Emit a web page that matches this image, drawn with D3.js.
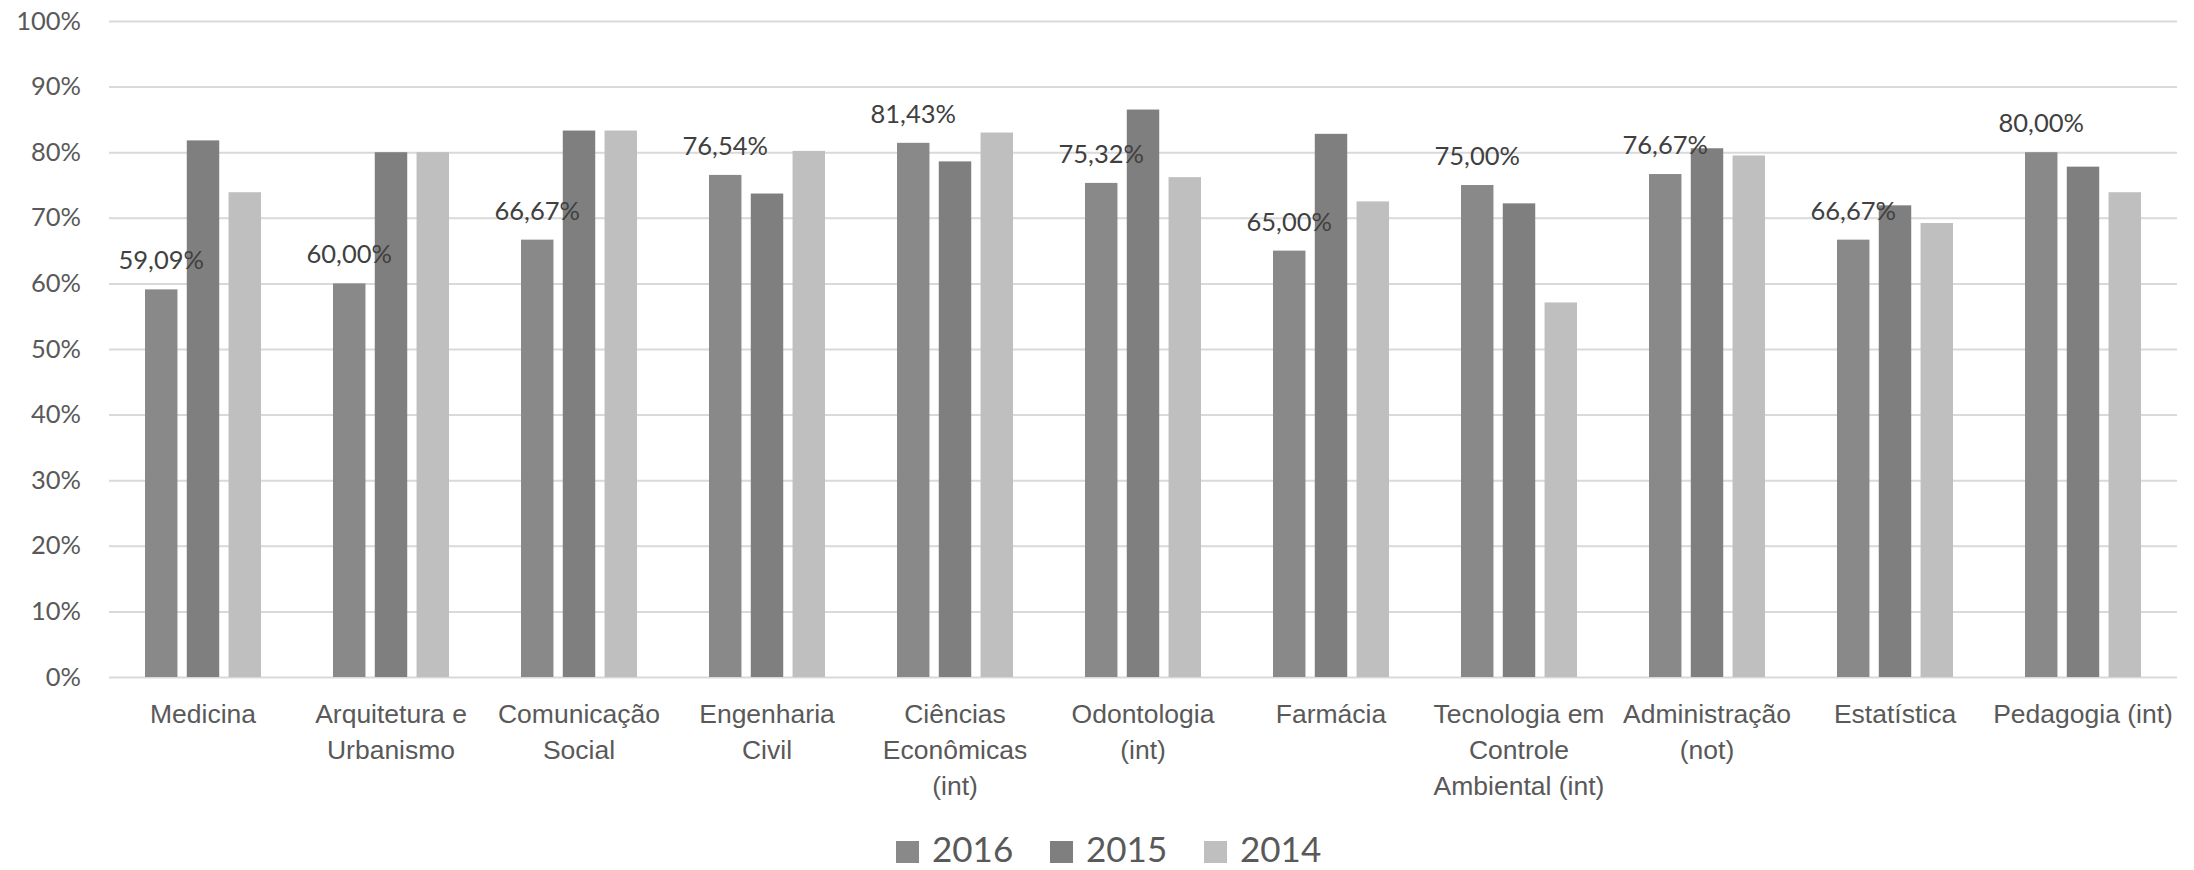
<!DOCTYPE html>
<html>
<head>
<meta charset="utf-8">
<script src="https://cdn.jsdelivr.net/npm/d3@7"></script>
<style>
  html, body { margin: 0; padding: 0; background: #ffffff; }
  svg { display: block; font-family: Lato, "Open Sans", sans-serif; }
</style>
</head>
<body>
<svg id="chart" width="2194" height="870"></svg>
<script>
// ---- data ----
const categories = [
  "Medicina",
  "Arquitetura e\nUrbanismo",
  "Comunicação\nSocial",
  "Engenharia\nCivil",
  "Ciências\nEconômicas\n(int)",
  "Odontologia\n(int)",
  "Farmácia",
  "Tecnologia em\nControle\nAmbiental (int)",
  "Administração\n(not)",
  "Estatística",
  "Pedagogia (int)"
];
const seriesNames = ["2016", "2015", "2014"];
const values2016 = [59.09, 60.00, 66.67, 76.54, 81.43, 75.32, 65.00, 75.00, 76.67, 66.67, 80.00];
const values2015 = [81.8, 80.0, 83.3, 73.7, 78.6, 86.5, 82.8, 72.2, 80.6, 71.9, 77.8];
const values2014 = [73.9, 80.0, 83.3, 80.2, 83.0, 76.2, 72.5, 57.1, 79.5, 69.2, 73.9];
const labels2016 = ["59,09%", "60,00%", "66,67%", "76,54%", "81,43%", "75,32%", "65,00%", "75,00%", "76,67%", "66,67%", "80,00%"];
const yTicks = [0, 10, 20, 30, 40, 50, 60, 70, 80, 90, 100];
const seriesColors = ["#898989", "#7f7f7f", "#bfbfbf"];

const seriesValues = [values2016, values2015, values2014];

// ---- layout ----
const svg = d3.select("#chart");
const plot = { left: 109, right: 2177, top: 21, bottom: 677 };

const x = d3.scaleBand()
  .domain(categories)
  .range([plot.left, plot.right])
  .paddingInner(0.383)
  .paddingOuter(0.383 / 2);

const xs = d3.scaleBand()
  .domain(seriesNames)
  .range([0, x.bandwidth()])
  .paddingInner(0.223)
  .paddingOuter(0);

const y = d3.scaleLinear().domain([0, 100]).range([plot.bottom, plot.top]);

// gridlines + y tick labels
const yAxis = d3.axisLeft(y)
  .tickValues(yTicks)
  .tickSize(-(plot.right - plot.left))
  .tickPadding(28)
  .tickFormat(d => d + "%");

const gy = svg.append("g")
  .attr("transform", `translate(${plot.left},0)`)
  .call(yAxis);
gy.select(".domain").remove();
gy.selectAll(".tick line")
  .attr("stroke", "#d9d9d9")
  .attr("stroke-width", 2);
gy.selectAll(".tick text")
  .attr("fill", "#595959")
  .style("font-size", "25.5px")
  .style("font-family", "Lato, 'Open Sans', sans-serif");

// bars
const groups = svg.append("g")
  .selectAll("g")
  .data(categories)
  .join("g")
  .attr("transform", d => `translate(${x(d)},0)`);

groups.selectAll("rect")
  .data((d, i) => seriesNames.map((s, j) => ({ s, j, v: seriesValues[j][i] })))
  .join("rect")
  .attr("x", d => xs(d.s))
  .attr("width", xs.bandwidth())
  .attr("y", d => y(d.v))
  .attr("height", d => y(0) - y(d.v))
  .attr("fill", d => seriesColors[d.j]);

// data labels on 2016 series
svg.append("g")
  .selectAll("text")
  .data(categories)
  .join("text")
  .attr("x", d => x(d) + xs("2016") + xs.bandwidth() / 2)
  .attr("y", (d, i) => y(values2016[i]) - 20)
  .attr("text-anchor", "middle")
  .attr("fill", "#404040")
  .style("font-size", "25.5px")
  .text((d, i) => labels2016[i]);

// category axis labels
const xAxis = d3.axisBottom(x).tickSize(0).tickFormat("");
const gx = svg.append("g")
  .attr("transform", `translate(0,${plot.bottom})`)
  .call(xAxis);
gx.select(".domain").remove();
gx.selectAll(".tick").each(function(d) {
  const t = d3.select(this).append("text")
    .attr("text-anchor", "middle")
    .attr("fill", "#595959")
    .style("font-size", "26.5px");
  d.split("\n").forEach((line, k) => {
    t.append("tspan").attr("x", 0).attr("y", 46 + k * 36).text(line);
  });
});

// legend
const legendX = [896, 1050, 1204];
const legend = svg.append("g")
  .selectAll("g")
  .data(seriesNames)
  .join("g")
  .attr("transform", (d, i) => `translate(${legendX[i]},841)`);
legend.append("rect")
  .attr("width", 23)
  .attr("height", 22)
  .attr("fill", (d, i) => seriesColors[i]);
legend.append("text")
  .attr("x", 36)
  .attr("y", 21)
  .attr("fill", "#595959")
  .style("font-size", "35px")
  .text(d => d);
</script>
</body>
</html>
